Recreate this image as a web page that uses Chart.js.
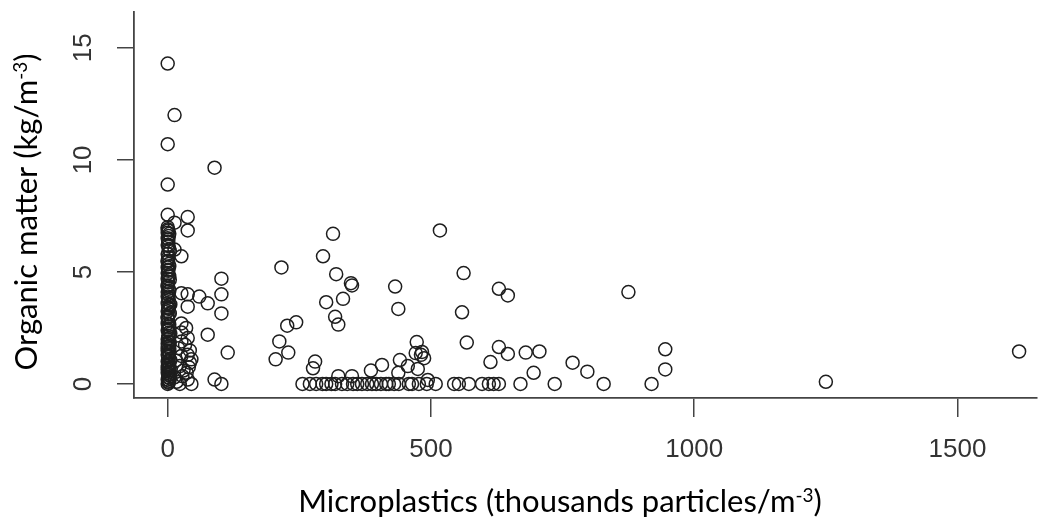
<!DOCTYPE html>
<html>
<head>
<meta charset="utf-8">
<script src="https://cdn.jsdelivr.net/npm/chart.js"></script>
<style>
  html, body { margin: 0; padding: 0; background: #fff; }
</style>
</head>
<body>
<canvas id="myChart" width="1045" height="524"></canvas>
<script>
// microplastics (thousands particles/m-3) vs organic matter (kg/m-3), paired by index
const microplastics = [
    // top outliers
    0, 13, 0, 89, 0,
    // dense column at ~0
    0, 2, 1, 3, 0, 4, 1, 2, 0, 3, 1, 0, 2, 0, 4, 1, 0, 2, 0, 3,
    1, 0, 2, 0, 1, 3, 0, 2, 0, 1, 0, 2, 0, 1, 3, 0, 2, 0, 1, 0,
    2, 0, 1, 0, 3, 0, 1, 0, 2, 0, 1, 0, 2, 0, 1, 0, 2, 0, 1, 0,
    5, 3, 0, 4, 2, 5, 1, 3, 0, 4, 2, 5, 1, 3, 0, 4,
    2, 5, 1, 3, 0, 4, 2, 1, 3, 0, 4, 2, 1, 3, 0,
    // near the column
    0, 38, 13, 38, 13, 26, 26, 38, 60, 76, 102, 102, 102, 38, 26, 76,
    38, 26, 114, 26, 42, 38, 26, 42, 23, 36, 38, 23, 13, 89, 102,
    17, 30, 45, 20, 33, 28, 40, 15, 35, 45,
    // middle cluster
    314, 295, 216, 320, 348, 350, 301, 333, 318, 324, 244, 227, 212, 229, 205,
    280, 276, 324, 350, 386, 407,
    // bottom row
    256, 270, 282, 294, 301, 311, 318, 331, 341, 352, 360, 369, 379, 388, 396,
    405, 415, 420, 430, 439, 458, 464, 477, 492, 509, 544, 553, 572, 597, 610,
    619, 629, 670, 735, 828, 919,
    // right part
    494, 441, 438, 456, 475, 473, 471, 481, 487, 483, 629, 646, 613, 680, 706,
    695, 769, 568, 432, 438, 517, 562, 559, 629, 646,
    875, 945, 945, 797, 1250, 1617
];
const organicMatter = [
    14.3, 12.0, 10.7, 9.65, 8.9,
    0, 0.05, 0.1, 0.15, 0.2, 0.25, 0.3, 0.4, 0.5, 0.6, 0.7, 0.8, 0.9, 1.0, 1.1, 1.2, 1.3, 1.4, 1.5, 1.6,
    1.7, 1.8, 1.9, 2.0, 2.15, 2.3, 2.4, 2.55, 2.7, 2.85, 3.0, 3.1, 3.25, 3.4, 3.5, 3.6, 3.75, 3.9, 4.0, 4.1,
    4.25, 4.4, 4.55, 4.7, 4.8, 4.95, 5.1, 5.2, 5.35, 5.5, 5.65, 5.8, 6.0, 6.2, 6.35, 6.5, 6.6, 6.75, 6.85, 7.0,
    0.35, 0.45, 0.65, 0.75, 0.85, 1.05, 1.25, 1.45, 1.65, 1.85, 2.05, 2.25, 2.45, 2.65, 2.95, 3.15,
    3.35, 3.55, 3.85, 4.15, 4.35, 4.65, 4.85, 5.05, 5.25, 5.45, 5.95, 6.15, 6.45, 6.7, 6.9,
    7.55, 7.45, 7.2, 6.85, 6.0, 5.7, 4.05, 4.0, 3.9, 3.6, 4.7, 4.0, 3.15, 3.45, 2.7, 2.2,
    2.05, 2.3, 1.4, 1.9, 1.5, 1.3, 1.25, 0.95, 0.8, 0.5, 0.2, 0.0, 0.3, 0.2, 0.0,
    0.1, 0.6, 1.1, 1.6, 1.75, 0.35, 0.75, 1.05, 2.5, 0.0,
    6.7, 5.7, 5.2, 4.9, 4.5, 4.4, 3.65, 3.8, 3.0, 2.65, 2.75, 2.6, 1.9, 1.4, 1.1,
    1.0, 0.7, 0.35, 0.35, 0.6, 0.85,
    0, 0, 0, 0, 0, 0, 0, 0, 0, 0, 0, 0, 0, 0, 0,
    0, 0, 0, 0, 0, 0, 0, 0, 0, 0, 0, 0, 0, 0, 0,
    0, 0, 0, 0, 0, 0,
    0.18, 1.07, 0.5, 0.8, 0.67, 1.87, 1.38, 1.3, 1.15, 1.43, 1.65, 1.34, 0.98, 1.4, 1.45,
    0.5, 0.95, 1.85, 4.35, 3.35, 6.85, 4.95, 3.2, 4.25, 3.95,
    4.1, 1.55, 0.65, 0.55, 0.1, 1.45
];
const xTicks = [0, 500, 1000, 1500];
const yTicks = [0, 5, 10, 15];

let points = [];
for (let i = 0; i < microplastics.length; i++) {
    points.push({x: microplastics[i], y: organicMatter[i]});
}

// draws a line of text with a superscript part, centered on 0,0
function supText(c, main, sup, tail, size) {
    c.font = size + 'px Lato';
    let w1 = c.measureText(main).width;
    let w3 = c.measureText(tail).width;
    c.font = Math.round(size * 0.62) + 'px Lato';
    let w2 = c.measureText(sup).width;
    let x = -(w1 + w2 + w3) / 2;
    c.textAlign = 'left';
    c.textBaseline = 'alphabetic';
    c.font = size + 'px Lato';
    c.fillText(main, x, 0);
    c.font = Math.round(size * 0.62) + 'px Lato';
    c.fillText(sup, x + w1, -size * 0.33);
    c.font = size + 'px Lato';
    c.fillText(tail, x + w1 + w2, 0);
}

const axisText = {
    id: 'axisText',
    afterDraw(chart) {
        const c = chart.ctx;
        const ys = chart.scales.y;
        c.save();
        c.fillStyle = '#333';
        c.font = '26px "Liberation Sans"';
        c.textAlign = 'center';
        c.textBaseline = 'middle';
        yTicks.forEach(function (v) {
            c.save();
            c.translate(84, ys.getPixelForValue(v));
            c.rotate(-Math.PI / 2);
            c.fillText(String(v), 0, 0);
            c.restore();
        });

        c.fillStyle = '#000';
        c.save();
        c.translate(560, 512);
        supText(c, 'Microplastics (thousands particles/m', '-3', ')', 31);
        c.restore();

        c.save();
        c.translate(37, 212);
        c.rotate(-Math.PI / 2);
        supText(c, 'Organic matter (kg/m', '-3', ')', 31);
        c.restore();
        c.restore();
    }
};

const ctx = document.getElementById('myChart');

new Chart(ctx, {
    type: 'scatter',
    data: {
        datasets: [{
            data: points,
            pointStyle: 'circle',
            pointRadius: 6.5,
            pointHoverRadius: 6.5,
            borderWidth: 1.5,
            borderColor: '#1e1e1e',
            backgroundColor: 'rgba(0,0,0,0)'
        }]
    },
    options: {
        responsive: false,
        animation: false,
        layout: {padding: {top: 12, right: 5, left: 0, bottom: 0}},
        plugins: {legend: {display: false}, tooltip: {enabled: false}},
        scales: {
            x: {
                type: 'linear',
                min: -64,
                max: 1651,
                afterBuildTicks: function (scale) {
                    scale.ticks = xTicks.map(v => ({value: v}));
                },
                afterFit: function (scale) { scale.height = 126; },
                grid: {drawOnChartArea: false, tickLength: 19, color: '#444', lineWidth: 1.5},
                border: {display: true, color: '#444', width: 1.8},
                ticks: {
                    padding: 17,
                    color: '#333',
                    maxRotation: 0,
                    font: {family: 'Liberation Sans', size: 26},
                    callback: function (value) { return String(value); }
                }
            },
            y: {
                type: 'linear',
                min: -0.625,
                max: 16.6,
                afterBuildTicks: function (scale) {
                    scale.ticks = yTicks.map(v => ({value: v}));
                },
                afterFit: function (scale) { scale.width = 134; },
                grid: {drawOnChartArea: false, tickLength: 17, color: '#444', lineWidth: 1.5},
                border: {display: true, color: '#444', width: 1.8},
                ticks: {display: false}
            }
        }
    },
    plugins: [axisText]
});
</script>
</body>
</html>
